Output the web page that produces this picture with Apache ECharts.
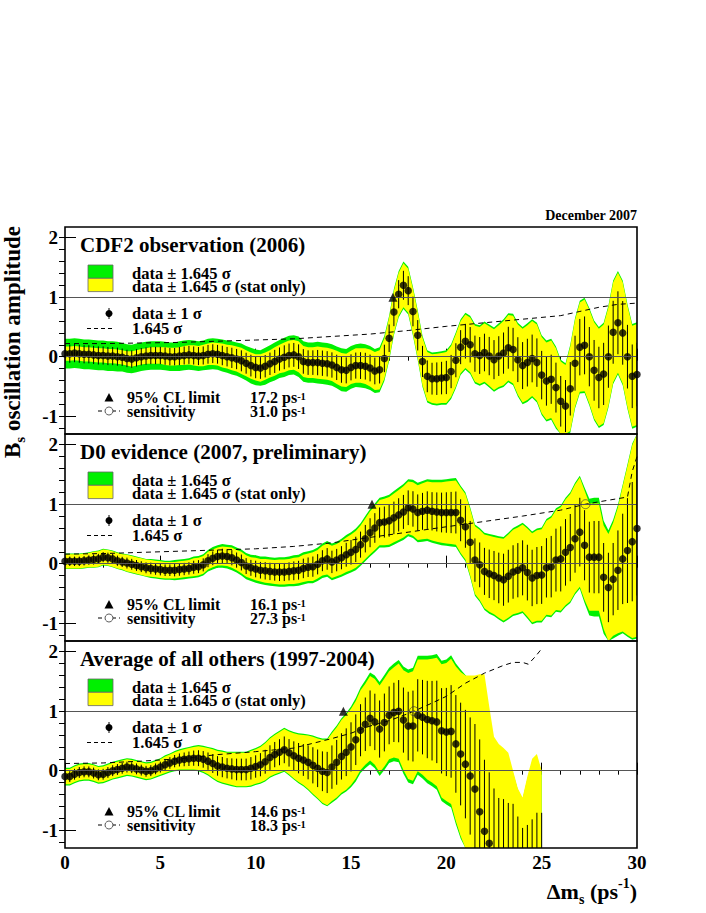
<!DOCTYPE html>
<html>
<head>
<meta charset="utf-8">
<script src="https://cdn.jsdelivr.net/npm/echarts@6/dist/echarts.min.js"></script>
<style>
  html, body { margin: 0; padding: 0; background: #fff; }
  #main { width: 706px; height: 913px; }
</style>
</head>
<body>
<div id="main"></div>
<script>
// amplitude scan, one point every 0.25 ps^-1
const step = 0.25

const xTicks = [0, 5, 10, 15, 20, 25, 30]
const xMinorTicks = [0,1,2,3,4,5,6,7,8,9,10,11,12,13,14,15,16,17,18,19,20,21,22,23,24,25,26,27,28,29,30]
const yTicks = [-1, 0, 1, 2]
const yMinorTicks = [-1.2,-1,-0.8,-0.6,-0.4,-0.2,0,0.2,0.4,0.6,0.8,1,1.2,1.4,1.6,1.8,2]
const refLevels = [0, 1]

const titles = ['CDF2 observation (2006)', 'D0 evidence (2007, preliminary)', 'Average of all others (1997-2004)']
const limits = [17.2, 16.1, 14.6]          // 95% CL limit, ps^-1
const sensitivities = [31.0, 27.3, 18.3]   // ps^-1

// ---- CDF2 ----
const cdfAmp = [
  0.05, 0.05, 0.06, 0.05,   0.04, 0.04, 0.03, 0.02,   0.02, 0.01, 0.01, 0.00,
  -0.01, -0.03, -0.04, -0.02,   0.00, 0.01, 0.02, 0.02,   0.02, 0.01, 0.00, 0.00,
  0.01, 0.02, 0.03, 0.02,   0.01, 0.02, 0.04, 0.05,   0.04, 0.02, 0.00, -0.02,
  -0.04, -0.07, -0.11, -0.15,   -0.18, -0.19, -0.16, -0.12,   -0.08, -0.04, -0.01, 0.02,
  0.03, 0.00, -0.08, -0.10,   -0.10, -0.10, -0.11, -0.12,   -0.14, -0.18, -0.22, -0.23,
  -0.18, -0.15, -0.15, -0.16,   -0.19, -0.24, -0.22, -0.03,   0.31, 0.75, 1.05, 1.20,
  1.11, 0.76, 0.36, -0.08,   -0.33, -0.37, -0.37, -0.36,   -0.35, -0.25, -0.06, 0.16,
  0.26, 0.20, 0.05, 0.02,   0.07, 0.01, -0.05, 0.01,   0.06, 0.15, 0.12, -0.05,
  -0.15, -0.10, -0.03, -0.10,   -0.31, -0.41, -0.38, -0.52,   -0.75, -0.83, -0.54, -0.11,
  0.16, 0.19, 0.00, -0.23,   -0.35, -0.29, 0.00, 0.41,   0.57, 0.40, 0.00, -0.33,
  -0.30
]
// 1.645 sigma, total and stat only (half widths of the green / yellow bands)
const cdfTot = [
  .25,.25,.25,.25, .25,.25,.25,.25, .25,.25,.25,.25, .24,.24,.24,.24, .24,.24,.24,.24,
  .24,.24,.24,.24, .25,.25,.25,.25, .25,.25,.26,.26, .26,.27,.27,.28, .28,.29,.29,.30,
  .30,.30,.31,.31, .32,.32,.33,.33, .33,.34,.34,.34, .34,.35,.35,.35, .35,.35,.36,.36,
  .36,.36,.37,.37, .37,.37,.38,.38, .38,.39,.39,.40, .40,.41,.42,.43, .44,.44,.45,.45,
  .46,.46,.47,.47, .48,.49,.50,.51, .52,.53,.54,.55, .57,.58,.60,.62, .65,.66,.66,.67,
  .67,.68,.68,.69, .70,.72,.74,.76, .78,.80,.82,.84, .85,.86,.86,.87, .87,.88,.88,.88,
  .88
]
const cdfStat = [
  .12,.12,.12,.12, .12,.12,.12,.12, .12,.12,.12,.12, .12,.12,.13,.13, .13,.13,.14,.14,
  .14,.15,.15,.15, .15,.16,.16,.17, .17,.18,.18,.19, .19,.20,.20,.21, .21,.22,.22,.22,
  .22,.23,.23,.23, .24,.24,.25,.25, .25,.26,.26,.26, .26,.27,.27,.27, .27,.28,.28,.28,
  .28,.29,.29,.30, .31,.32,.33,.34, .35,.36,.36,.37, .37,.38,.39,.40, .41,.41,.42,.42,
  .43,.43,.44,.44, .45,.46,.47,.48, .49,.50,.51,.52, .54,.55,.57,.59, .62,.63,.63,.64,
  .64,.65,.65,.66, .67,.69,.71,.73, .75,.77,.79,.81, .82,.83,.83,.84, .84,.85,.85,.85,
  .85
]
const cdfDashX = [0, 2, 4, 6, 8, 10, 12, 14, 16, 18, 20, 22, 24, 26, 27, 28, 29, 30]
const cdfDashY = [0.22, 0.22, 0.23, 0.24, 0.26, 0.28, 0.30, 0.34, 0.38, 0.44, 0.51, 0.57, 0.63, 0.69, 0.76, 0.83, 0.88, 0.90]

// ---- D0 ----
const d0Amp = [
  0.04, 0.04, 0.04, 0.04,   0.05, 0.06, 0.07, 0.08,   0.11, 0.10, 0.08, 0.05,
  0.03, 0.01, -0.01, -0.03,   -0.05, -0.07, -0.08, -0.09,   -0.10, -0.11, -0.11, -0.11,
  -0.10, -0.09, -0.08, -0.06,   -0.05, -0.02, 0.05, 0.09,   0.12, 0.13, 0.12, 0.10,
  0.06, 0.02, -0.04, -0.07,   -0.09, -0.11, -0.12, -0.13,   -0.14, -0.14, -0.14, -0.13,
  -0.12, -0.11, -0.08, -0.06,   -0.05, -0.01, 0.05, 0.08,   0.03, 0.06, 0.10, 0.15,
  0.19, 0.24, 0.32, 0.42,   0.52, 0.60, 0.69, 0.70,   0.72, 0.77, 0.82, 0.87,
  0.94, 0.92, 0.86, 0.88,   0.90, 0.88, 0.87, 0.86,   0.86, 0.86, 0.86, 0.73,
  0.62, 0.36, 0.06, -0.02,   -0.13, -0.17, -0.20, -0.24,   -0.27, -0.21, -0.14, -0.11,
  -0.07, -0.15, -0.24, -0.20,   -0.19, -0.07, -0.05, 0.06,   0.08, 0.19, 0.27, 0.42,
  0.53, 0.31, 0.11, 0.11,   0.11, -0.23, -0.40, -0.26,   -0.11, 0.08, 0.22, 0.37,
  0.59
]
const d0Tot = [
  .13,.13,.13,.13, .13,.13,.14,.14, .14,.14,.14,.14, .14,.15,.15,.15, .15,.15,.16,.16,
  .16,.16,.16,.17, .17,.17,.17,.18, .18,.18,.18,.19, .19,.20,.20,.21, .21,.22,.22,.22,
  .23,.23,.24,.24, .24,.25,.25,.25, .26,.26,.27,.27, .28,.28,.29,.30, .31,.31,.32,.33,
  .34,.35,.36,.38, .40,.41,.42,.43, .44,.45,.46,.47, .48,.49,.50,.51, .52,.53,.54,.55,
  .56,.57,.58,.58, .58,.59,.60,.62, .65,.67,.68,.70, .72,.73,.74,.75, .76,.77,.78,.79,
  .80,.82,.85,.87, .90,.92,.93,.94, .95,.97,.98,1.0, 1.0,.95,.96,1.0, 1.1,1.25,1.45,1.65,
  1.85
]
const d0Stat = [
  .12,.12,.12,.12, .12,.12,.13,.13, .13,.13,.13,.13, .13,.14,.14,.14, .14,.14,.14,.14,
  .14,.14,.14,.14, .14,.14,.14,.15, .15,.15,.15,.15, .15,.16,.16,.17, .17,.18,.18,.18,
  .19,.19,.20,.20, .20,.21,.21,.21, .22,.22,.23,.23, .24,.24,.25,.26, .27,.27,.28,.29,
  .30,.31,.32,.34, .36,.37,.38,.39, .40,.41,.42,.43, .44,.45,.46,.47, .48,.49,.50,.51,
  .52,.53,.54,.55, .55,.56,.57,.59, .62,.64,.65,.67, .69,.70,.71,.72, .73,.74,.75,.76,
  .77,.79,.82,.84, .87,.89,.90,.91, .92,.92,.90,.90, .90,.87,.90,.95, 1.06,1.22,1.42,1.62,
  1.82
]
const d0DashX = [0, 2, 4, 6, 8, 10, 12, 14, 15.5, 18, 20, 22, 24, 26, 27.3, 28, 29.5, 29.75, 30]
const d0DashY = [0.16, 0.17, 0.19, 0.21, 0.23, 0.25, 0.29, 0.35, 0.42, 0.53, 0.62, 0.71, 0.80, 0.90, 1.00, 1.04, 1.12, 1.55, 1.80]

// ---- average of the others (scan stops at 25 ps^-1) ----
const othAmp = [
  -0.10, -0.10, -0.06, -0.03,   -0.02, -0.02, -0.04, -0.07,   -0.06, -0.03, 0.00, 0.02,
  0.04, 0.06, 0.05, 0.03,   0.01, -0.01, 0.00, 0.03,   0.06, 0.10, 0.13, 0.16,
  0.18, 0.19, 0.20, 0.21,   0.21, 0.19, 0.16, 0.12,   0.08, 0.06, 0.04, 0.03,
  0.02, 0.02, 0.02, 0.04,   0.07, 0.10, 0.15, 0.22,   0.27, 0.31, 0.35, 0.30,
  0.25, 0.21, 0.18, 0.14,   0.09, 0.04, -0.01, -0.03,   0.06, 0.14, 0.24, 0.31,
  0.40, 0.52, 0.68, 0.78,   0.88, 0.82, 0.70, 0.81,   0.93, 0.98, 1.00, 0.85,
  0.75, 0.75, 0.93, 0.90,   0.86, 0.84, 0.82, 0.67,   0.65, 0.66, 0.45, 0.28,
  0.11, -0.09, -0.31, -0.69,   -1.02, -1.22, -1.40, -1.76,   -1.73, -1.74, -1.36, -1.47,
  -1.71, -2.11, -2.32, -2.16,   -1.76
]
const othTot = [
  .15,.15,.15,.15, .15,.15,.15,.15, .15,.15,.15,.15, .15,.15,.15,.15, .15,.15,.15,.15,
  .15,.16,.16,.17, .18,.19,.20,.21, .22,.23,.24,.26, .27,.28,.28,.29, .30,.30,.30,.31,
  .31,.32,.33,.34, .35,.36,.37,.38, .40,.42,.44,.47, .50,.52,.55,.57, .60,.62,.64,.66,
  .68,.70,.72,.74, .77,.78,.79,.80, .80,.82,.86,.90, .95,.98,1.0,1.03, 1.07,1.10,1.14,1.18,
  1.22,1.28,1.35,1.42, 1.50,1.62,1.80,2.00, 1.98,1.96,1.81,2.14, 2.06,1.97,1.32,1.15,
  1.23,1.97,2.47,2.39, 1.73
]
const othStat = [
  .13,.13,.13,.13, .13,.13,.13,.13, .13,.13,.13,.13, .13,.13,.13,.13, .13,.13,.13,.13,
  .13,.14,.14,.15, .16,.17,.18,.19, .20,.21,.22,.24, .25,.26,.26,.27, .28,.28,.28,.29,
  .29,.30,.31,.32, .33,.34,.35,.36, .38,.40,.42,.45, .48,.50,.53,.55, .57,.59,.61,.63,
  .64,.65,.67,.68, .71,.72,.73,.74, .74,.76,.80,.84, .89,.92,.94,.97, 1.01,1.04,1.08,1.12,
  1.16,1.22,1.30,1.38, 1.49,1.69,1.91,2.31, 2.64,2.30,1.97,2.21, 2.11,2.04,1.36,1.17,
  1.26,2.01,2.52,2.44, 1.76
]
const othDashX = [0, 2, 4, 6, 8, 10, 12, 13, 14, 15, 16, 17, 18, 19, 20, 21, 22, 23, 23.5, 24, 24.3, 24.7, 25]
const othDashY = [0.12, 0.13, 0.16, 0.20, 0.27, 0.32, 0.38, 0.46, 0.54, 0.63, 0.75, 0.84, 0.96, 1.10, 1.25, 1.47, 1.64, 1.77, 1.82, 1.82, 1.79, 1.93, 2.05]

const panels = [
  { amp: cdfAmp, tot: cdfTot, stat: cdfStat, dashX: cdfDashX, dashY: cdfDashY },
  { amp: d0Amp, tot: d0Tot, stat: d0Stat, dashX: d0DashX, dashY: d0DashY },
  { amp: othAmp, tot: othTot, stat: othStat, dashX: othDashX, dashY: othDashY }
]

const SERIF = 'Liberation Serif'
const GREEN = '#00f000'
const YELLOW = '#ffff00'
const gridTops = [227, 434, 641]
const gridH = 207
const gridLeft = 65
const gridW = 572

const chart = echarts.init(document.getElementById('main'), null, { renderer: 'svg' })

const grid = []
const xAxis = []
const yAxis = []
const series = []
const graphic = []

function clipPts(pts, params) {
  return echarts.graphic.clipPointsByRect(pts, params.coordSys)
}

function bandSeries(p, xs, lo, hi, color) {
  return {
    type: 'custom', xAxisIndex: 2 * p, yAxisIndex: 2 * p, z: 1, silent: true, clip: true,
    data: xs.map((x, i) => [x, lo[i], hi[i]]),
    encode: { x: 0, y: [1, 2] },
    renderItem(params, api) {
      if (params.dataIndex !== 0) return
      const pts = []
      for (let i = 0; i < xs.length; i++) pts.push(api.coord([xs[i], hi[i]]))
      for (let i = xs.length - 1; i >= 0; i--) pts.push(api.coord([xs[i], lo[i]]))
      return { type: 'polygon', shape: { points: clipPts(pts, params) }, style: { fill: color } }
    }
  }
}

panels.forEach((pn, p) => {
  grid.push({
    left: gridLeft, top: gridTops[p], width: gridW, height: gridH,
    show: true, borderColor: '#000', borderWidth: 1.6, backgroundColor: 'transparent', z: 10
  })
  const lab = { color: '#000', fontFamily: SERIF, fontWeight: 'bold', fontSize: 19 }
  xAxis.push({
    type: 'value', gridIndex: p, min: 0, max: 30, interval: 5,
    axisLine: { show: false },
    axisTick: { show: true, inside: true, length: 8, customValues: xTicks, lineStyle: { color: '#000', width: 1 } },
    axisLabel: Object.assign({ show: p === 2, customValues: xTicks, margin: 5 }, lab),
    splitLine: { show: false }
  })
  xAxis.push({
    type: 'value', gridIndex: p, min: 0, max: 30, interval: 1,
    axisLine: { show: false },
    axisTick: { show: true, inside: true, length: 4, customValues: xMinorTicks, lineStyle: { color: '#000', width: 1 } },
    axisLabel: { show: false }, splitLine: { show: false }
  })
  yAxis.push({
    type: 'value', gridIndex: p, min: -1.3, max: 2.18,
    axisLine: { show: false },
    axisTick: { show: true, inside: true, length: 11, customValues: yTicks, lineStyle: { color: '#000', width: 1 } },
    axisLabel: Object.assign({ customValues: yTicks, margin: 7, formatter: v => String(v) }, lab),
    splitLine: { show: false }
  })
  yAxis.push({
    type: 'value', gridIndex: p, min: -1.3, max: 2.18,
    axisLine: { show: false },
    axisTick: { show: true, inside: true, length: 6, customValues: yMinorTicks, lineStyle: { color: '#000', width: 1 } },
    axisLabel: { show: false }, splitLine: { show: false }
  })

  const xs = pn.amp.map((_, i) => i * step)
  const totLo = pn.amp.map((a, i) => a - pn.tot[i])
  const totHi = pn.amp.map((a, i) => a + pn.tot[i])
  const statLo = pn.amp.map((a, i) => a - pn.stat[i])
  const statHi = pn.amp.map((a, i) => a + pn.stat[i])
  const ax = { xAxisIndex: 2 * p, yAxisIndex: 2 * p }

  series.push(bandSeries(p, xs, totLo, totHi, GREEN))
  series.push(bandSeries(p, xs, statLo, statHi, YELLOW))

  // 1.645 sigma curve, with the 0 and 1 reference levels
  series.push(Object.assign({
    type: 'line', z: 3, silent: true, showSymbol: false, animation: false,
    data: pn.dashX.map((x, i) => [x, pn.dashY[i]]),
    lineStyle: { color: '#000', width: 1, type: [5, 4] },
    markLine: {
      silent: true, symbol: 'none', label: { show: false }, animation: false,
      lineStyle: { color: '#555', width: 1, type: 'solid' },
      data: refLevels.map(v => ({ yAxis: v }))
    }
  }, ax))

  // data +- 1 sigma error bars
  series.push(Object.assign({
    type: 'custom', z: 3, silent: true, clip: true,
    data: xs.map((x, i) => [x, pn.amp[i] - pn.tot[i] / 1.645, pn.amp[i] + pn.tot[i] / 1.645]),
    encode: { x: 0, y: [1, 2] },
    renderItem(params, api) {
      const x = api.value(0)
      const pts = clipPts([api.coord([x, api.value(1)]), api.coord([x, api.value(2)])], params)
      return {
        type: 'line',
        shape: { x1: pts[0][0], y1: pts[0][1], x2: pts[1][0], y2: pts[1][1] },
        style: { stroke: '#000', lineWidth: 1 }
      }
    }
  }, ax))

  series.push(Object.assign({
    type: 'scatter', z: 4, silent: true, symbol: 'circle', symbolSize: 7.5,
    itemStyle: { color: '#000' },
    data: xs.map((x, i) => [x, pn.amp[i]])
  }, ax))

  series.push(Object.assign({
    type: 'scatter', z: 5, silent: true, symbol: 'triangle', symbolSize: 9,
    itemStyle: { color: '#000' },
    data: [[limits[p], 1]]
  }, ax))
  series.push(Object.assign({
    type: 'scatter', z: 5, silent: true, symbol: 'circle', symbolSize: 9,
    itemStyle: { color: 'rgba(0,0,0,0)', borderColor: '#333', borderWidth: 0.8 },
    data: [[sensitivities[p], 1]]
  }, ax))

  // legend block
  const t = gridTops[p]
  const txtStyle = (s) => ({ font: 'bold ' + s + 'px "' + SERIF + '"', fill: '#000', lineHeight: 13, verticalAlign: 'middle', textVerticalAlign: 'middle' })
  const sup = { fontSize: 10.5, fontWeight: 'bold', fontFamily: SERIF, verticalAlign: 'top', lineHeight: 8 }
  const base = { fontSize: 16, fontWeight: 'bold', fontFamily: SERIF, lineHeight: 13 }
  graphic.push(
    { type: 'text', x: 80, y: t + 18, z: 100, style: Object.assign({ text: titles[p] }, txtStyle(21)) },
    { type: 'rect', z: 100, shape: { x: 88, y: t + 38, width: 25, height: 13.3 }, style: { fill: GREEN, stroke: '#666', lineWidth: 0.8 } },
    { type: 'rect', z: 100, shape: { x: 88, y: t + 51.3, width: 25, height: 13.3 }, style: { fill: YELLOW, stroke: '#666', lineWidth: 0.8 } },
    { type: 'text', x: 132, y: t + 46, z: 100, style: Object.assign({ text: 'data ± 1.645 σ' }, txtStyle(16.5)) },
    { type: 'text', x: 132, y: t + 59.5, z: 100, style: Object.assign({ text: 'data ± 1.645 σ (stat only)' }, txtStyle(16.5)) },
    { type: 'line', z: 100, shape: { x1: 109, y1: t + 81, x2: 109, y2: t + 92 }, style: { stroke: '#000', lineWidth: 1 } },
    { type: 'circle', z: 100, shape: { cx: 109, cy: t + 86.5, r: 3.5 }, style: { fill: '#000' } },
    { type: 'text', x: 132, y: t + 86.5, z: 100, style: Object.assign({ text: 'data ± 1 σ' }, txtStyle(16.5)) },
    { type: 'line', z: 100, shape: { x1: 87, y1: t + 101.5, x2: 113, y2: t + 101.5 }, style: { stroke: '#000', lineWidth: 1, lineDash: [4, 3] } },
    { type: 'text', x: 132, y: t + 101.5, z: 100, style: Object.assign({ text: '1.645 σ' }, txtStyle(16.5)) },
    { type: 'polygon', z: 100, shape: { points: [[109, t + 166], [113.5, t + 174.5], [104.5, t + 174.5]] }, style: { fill: '#000' } },
    { type: 'text', x: 127, y: t + 170, z: 100, style: Object.assign({ text: '95% CL limit' }, txtStyle(16)) },
    { type: 'text', x: 250, y: t + 170, z: 100, style: Object.assign({ text: '{b|' + limits[p].toFixed(1) + ' ps}{s|-1}', rich: { b: base, s: sup } }, txtStyle(16)) },
    { type: 'line', z: 100, shape: { x1: 98, y1: t + 184, x2: 120, y2: t + 184 }, style: { stroke: '#000', lineWidth: 1, lineDash: [4, 3] } },
    { type: 'circle', z: 101, shape: { cx: 109, cy: t + 184, r: 4 }, style: { fill: '#fff', stroke: '#333', lineWidth: 0.8 } },
    { type: 'text', x: 127, y: t + 184.5, z: 100, style: Object.assign({ text: 'sensitivity' }, txtStyle(16)) },
    { type: 'text', x: 250, y: t + 184.5, z: 100, style: Object.assign({ text: '{b|' + sensitivities[p].toFixed(1) + ' ps}{s|-1}', rich: { b: base, s: sup } }, txtStyle(16)) }
  )
})

graphic.push(
  { type: 'text', x: 637, y: 215, z: 100,
    style: { text: 'December 2007', font: 'bold 14px "' + SERIF + '"', fill: '#000', align: 'right', textAlign: 'right', verticalAlign: 'middle', textVerticalAlign: 'middle' } },
  { type: 'text', x: 12, y: 226, rotation: Math.PI / 2, z: 100,
    style: {
      text: '{b|B}{s|s}{b| oscillation amplitude}', fill: '#000',
      align: 'right', textAlign: 'right', verticalAlign: 'middle', textVerticalAlign: 'middle',
      rich: {
        b: { fontSize: 23, fontWeight: 'bold', fontFamily: SERIF, lineHeight: 30 },
        s: { fontSize: 15, fontWeight: 'bold', fontFamily: SERIF, lineHeight: 10, verticalAlign: 'bottom' }
      }
    } },
  { type: 'text', x: 637, y: 891, z: 100,
    style: {
      text: '{b|Δm}{s|s}{b| (ps}{u|-1}{b|)}', fill: '#000',
      align: 'right', textAlign: 'right', verticalAlign: 'middle', textVerticalAlign: 'middle',
      rich: {
        b: { fontSize: 22, fontWeight: 'bold', fontFamily: SERIF, lineHeight: 30 },
        s: { fontSize: 14, fontWeight: 'bold', fontFamily: SERIF, lineHeight: 10, verticalAlign: 'bottom' },
        u: { fontSize: 14, fontWeight: 'bold', fontFamily: SERIF, lineHeight: 12, verticalAlign: 'top' }
      }
    } }
)

chart.setOption({
  animation: false,
  backgroundColor: '#fff',
  grid: grid,
  xAxis: xAxis,
  yAxis: yAxis,
  series: series,
  graphic: graphic
})
</script>
</body>
</html>
